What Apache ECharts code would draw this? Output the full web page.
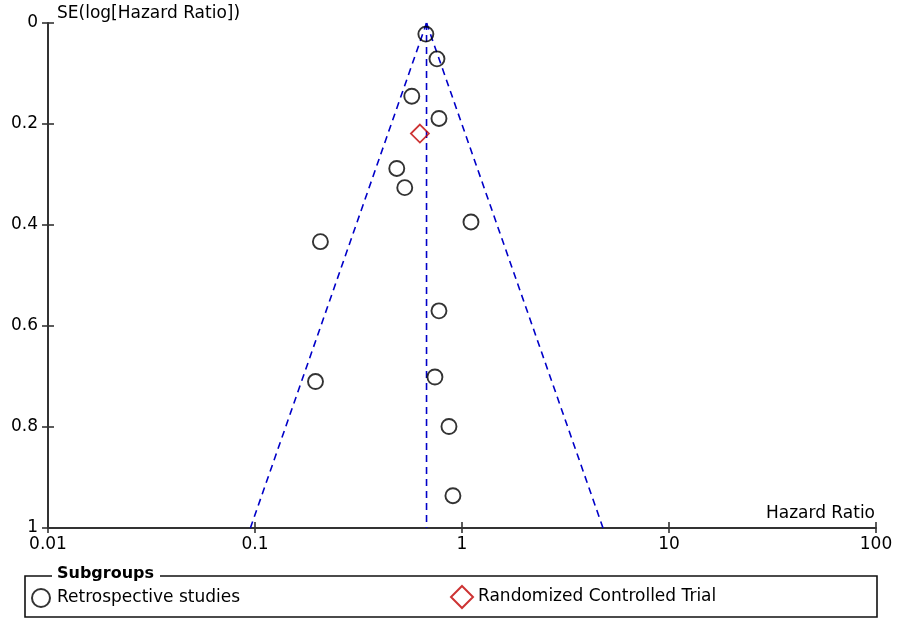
<!DOCTYPE html>
<html>
<head>
<meta charset="utf-8">
<script src="https://cdn.jsdelivr.net/npm/echarts@6/dist/echarts.min.js"></script>
<style>html,body{margin:0;padding:0;background:#fff}#c{width:900px;height:642px}</style>
</head>
<body>
<div id="c"></div>
<script>
// Retrospective studies: [Hazard Ratio, SE(log HR)]
var retroHR = [0.669, 0.757, 0.572, 0.774, 0.484, 0.529, 1.105, 0.207, 0.774, 0.196, 0.740, 0.865, 0.904];
var retroSE = [0.022, 0.071, 0.145, 0.189, 0.288, 0.326, 0.394, 0.433, 0.570, 0.710, 0.701, 0.799, 0.936];
// Randomized Controlled Trial
var rctHR = [0.626];
var rctSE = [0.219];
// Funnel: pooled estimate and 95% limits at SE = 1
var pooledHR = 0.674;
var funnelLowHR = 0.095;
var funnelHighHR = 4.8;
var seRange = [0, 1];
var xTicks = [0.01, 0.1, 1, 10, 100];
var yTicks = [0, 0.2, 0.4, 0.6, 0.8, 1];

var FONT = 'DejaVu Sans';
var FS = 17;
var chart = echarts.init(document.getElementById('c'));

function pairs(xs, ys) { return xs.map(function (v, i) { return [v, ys[i]]; }); }
var dashStyle = { color: '#0000c8', width: 1.6, type: [7, 5] };
var axisColor = '#333';

var option = {
  animation: false,
  backgroundColor: '#fff',
  grid: { left: 48, right: 24, top: 23, bottom: 114, containLabel: false },
  xAxis: [{
    type: 'log', logBase: 10, min: xTicks[0], max: xTicks[xTicks.length - 1],
    position: 'bottom',
    name: 'Hazard Ratio', nameLocation: 'end', nameGap: -1,
    nameTextStyle: { fontFamily: FONT, fontSize: FS, color: '#000', align: 'right', verticalAlign: 'bottom', padding: [0, 0, 6, 0] },
    axisLine: { show: true, onZero: false, lineStyle: { color: axisColor, width: 2 } },
    axisTick: { show: true, inside: false, length: 5, lineStyle: { color: axisColor, width: 1.6 } },
    axisLabel: { fontFamily: FONT, fontSize: FS, color: '#000', margin: 8,
      formatter: function (v) { return String(+(+v).toPrecision(6)); } },
    minorTick: { show: false }, splitLine: { show: false }
  }, {
    type: 'log', logBase: 10, min: xTicks[0], max: xTicks[xTicks.length - 1],
    position: 'bottom',
    axisLine: { show: false, onZero: false },
    axisTick: { show: true, inside: true, length: 6, lineStyle: { color: axisColor, width: 1.6 } },
    axisLabel: { show: false }, splitLine: { show: false }
  }],
  yAxis: [{
    type: 'value', inverse: true, min: seRange[0], max: seRange[1], interval: 0.2,
    name: 'SE(log[Hazard Ratio])', nameLocation: 'start', nameGap: 1,
    nameTextStyle: { fontFamily: FONT, fontSize: FS, color: '#000', align: 'left', padding: [0, 0, 0, 9] },
    axisLine: { show: true, onZero: false, lineStyle: { color: axisColor, width: 2 } },
    axisTick: { show: true, inside: false, length: 6, lineStyle: { color: axisColor, width: 1.6 } },
    axisLabel: { fontFamily: FONT, fontSize: FS, color: '#000', margin: 10,
      formatter: function (v) { return String(+(+v).toFixed(1)); } },
    splitLine: { show: false }
  }, {
    type: 'value', inverse: true, min: seRange[0], max: seRange[1], interval: 0.2,
    position: 'left',
    axisLine: { show: false, onZero: false },
    axisTick: { show: true, inside: true, length: 6, lineStyle: { color: axisColor, width: 1.6 } },
    axisLabel: { show: false }, splitLine: { show: false }
  }],
  legend: [{
    data: ['Retrospective studies'], left: 26, top: 583, itemWidth: 18, itemHeight: 18, itemGap: 10,
    textStyle: { fontFamily: FONT, fontSize: FS, color: '#000', padding: [0, 0, 0, 2] }
  }, {
    data: ['Randomized Controlled Trial'], left: 445, top: 580, itemWidth: 22, itemHeight: 22,
    textStyle: { fontFamily: FONT, fontSize: FS, color: '#000' }
  }],
  graphic: [
    { type: 'rect', shape: { x: 25, y: 576, width: 852, height: 41 }, style: { fill: 'none', stroke: '#111', lineWidth: 1.6 }, z: 1 },
    { type: 'rect', shape: { x: 52, y: 566, width: 108, height: 18 }, style: { fill: '#fff' }, z: 2 },
    { type: 'text', left: 57, top: 566, style: { text: 'Subgroups', font: 'bold 16px "DejaVu Sans"', fill: '#000' }, z: 3 }
  ],
  series: [{
    name: 'funnel-low', type: 'line', silent: true, symbol: 'none',
    data: [[pooledHR, seRange[0]], [funnelLowHR, seRange[1]]], lineStyle: dashStyle, z: 1
  }, {
    name: 'funnel-high', type: 'line', silent: true, symbol: 'none',
    data: [[pooledHR, seRange[0]], [funnelHighHR, seRange[1]]], lineStyle: dashStyle, z: 1
  }, {
    name: 'pooled', type: 'line', silent: true, symbol: 'none',
    data: [[pooledHR, seRange[0]], [pooledHR, seRange[1]]], lineStyle: dashStyle, z: 1
  }, {
    name: 'Retrospective studies', type: 'scatter', symbol: 'circle', symbolSize: 15,
    data: pairs(retroHR, retroSE),
    itemStyle: { color: 'rgba(0,0,0,0)', borderColor: '#000', borderWidth: 1.9 }, z: 3
  }, {
    name: 'Randomized Controlled Trial', type: 'scatter', symbol: 'diamond', symbolSize: [18, 18],
    data: pairs(rctHR, rctSE),
    itemStyle: { color: 'rgba(0,0,0,0)', borderColor: '#c00000', borderWidth: 1.8 }, z: 3
  }]
};
chart.setOption(option);
</script>
</body>
</html>
